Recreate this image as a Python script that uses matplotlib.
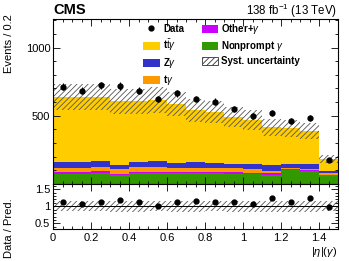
import numpy as np
import matplotlib
matplotlib.use('Agg')
import matplotlib.pyplot as plt
from matplotlib.patches import Patch
from matplotlib.lines import Line2D
from matplotlib.ticker import MultipleLocator

plt.rcParams['font.family'] = ['Liberation Sans', 'DejaVu Sans']
plt.rcParams['mathtext.fontset'] = 'custom'
plt.rcParams['mathtext.rm'] = 'Liberation Sans'
plt.rcParams['mathtext.it'] = 'Liberation Sans:italic'
plt.rcParams['mathtext.bf'] = 'Liberation Sans:bold'
plt.rcParams['hatch.linewidth'] = 0.6

# |eta|(gamma) bins
edges = np.arange(0.0, 1.51, 0.1)

# stacked predictions (events / bin), bottom to top
nonprompt = [71, 71, 81, 64, 79, 81, 79, 79, 76, 74, 74, 66, 98, 91, 62]
other = [15, 15, 10, 5, 7, 7, 7, 9, 10, 14, 7, 10, 8, 8, 5]
tgamma = [29, 29, 32, 37, 37, 32, 27, 27, 29, 27, 25, 20, 12, 12, 9]
zgamma = [42, 42, 44, 34, 39, 47, 41, 42, 39, 28, 39, 39, 25, 32, 17]
ttgamma = [480, 480, 470, 465, 445, 448, 430, 382, 375, 345, 323, 279, 265, 245, 88]
syst = [95, 95, 95, 92, 92, 93, 89, 82, 80, 74, 71, 63, 62, 59, 27]

data = [713, 682, 723, 718, 682, 623, 665, 623, 603, 547, 500, 518, 463, 485, 178]
data_err = [27, 26, 27, 27, 26, 25, 26, 25, 25, 23, 22, 23, 22, 22, 13]

fig = plt.figure(figsize=(3.49, 2.61), dpi=100)
ax = fig.add_axes([0.152, 0.296, 0.817, 0.631])
rax = fig.add_axes([0.152, 0.123, 0.817, 0.173], sharex=ax)

width = np.diff(edges)
left = edges[:-1]
centers = left + width / 2

comps = [
    (nonprompt, '#339900'),
    (other, '#cc00ff'),
    (tgamma, '#ff9900'),
    (zgamma, '#3333cc'),
    (ttgamma, '#ffcc00'),
]
bottom = np.zeros(len(left))
for vals, col in comps:
    ax.bar(left, vals, width, bottom=bottom, align='edge', color=col, linewidth=0)
    bottom = bottom + np.array(vals)
total = bottom
syst = np.array(syst)

ax.bar(left, 2 * syst, width, bottom=total - syst, align='edge', fill=False,
       hatch='//////', edgecolor='#555555', linewidth=0)
ax.errorbar(centers, data, yerr=data_err, fmt='o', color='black', ms=3.5,
            elinewidth=0.8, capsize=0)

ax.set_xlim(0, 1.5)
ax.set_ylim(0, 1210)
ax.set_yticks([500, 1000])
ax.set_yticklabels(['500', '1000'])
ax.yaxis.set_minor_locator(MultipleLocator(100))
ax.xaxis.set_major_locator(MultipleLocator(0.2))
ax.xaxis.set_minor_locator(MultipleLocator(0.05))
plt.setp(ax.get_xticklabels(), visible=False)

# ratio panel
ratio = np.array(data) / total
rerr = np.array(data_err) / total
runc = syst / total
rax.bar(left, 2 * runc, width, bottom=1 - runc, align='edge', fill=False,
        hatch='//////', edgecolor='#555555', linewidth=0)
rax.axhline(1, color='black', lw=0.7)
rax.errorbar(centers, ratio, yerr=rerr, fmt='o', color='black', ms=3.5,
             elinewidth=0.8, capsize=0)
rax.set_ylim(0.34, 1.66)
rax.yaxis.set_minor_locator(MultipleLocator(0.1))
rax.set_xticks([0, 0.2, 0.4, 0.6, 0.8, 1.0, 1.2, 1.4])
rax.set_xticklabels(['0', '0.2', '0.4', '0.6', '0.8', '1', '1.2', '1.4'])
rax.set_yticks([0.5, 1, 1.5])
rax.set_yticklabels(['0.5', '1', '1.5'])
rax.xaxis.set_minor_locator(MultipleLocator(0.05))

for a in (ax, rax):
    a.tick_params(which='both', direction='in', top=True, right=True,
                  labelsize=8, width=0.6, pad=2)
    a.tick_params(which='major', length=5)
    a.tick_params(which='minor', length=2.5)
    for s in a.spines.values():
        s.set_linewidth(0.8)
rax.tick_params(axis='x', which='major', pad=3)

fig.text(0.025, 0.946, 'Events / 0.2', rotation=90, ha='center', va='top', fontsize=8)
fig.text(0.025, 0.125, 'Data / Pred.', rotation=90, ha='center', va='center', fontsize=8)
fig.text(0.966, 0.035, '|$\\eta$|($\\gamma$)', ha='right', va='center', fontsize=8)
fig.text(0.152, 0.96, 'CMS', fontsize=10.5, fontweight='bold', ha='left', va='center')
fig.text(0.966, 0.96, '138 fb$^{-1}$ (13 TeV)', fontsize=8.3, ha='right', va='center')

handles = [
    Line2D([], [], marker='o', color='black', ls='', ms=3.5),
    Patch(facecolor='#ffcc00', linewidth=0),
    Patch(facecolor='#3333cc', linewidth=0),
    Patch(facecolor='#ff9900', linewidth=0),
    Patch(facecolor='#cc00ff', linewidth=0),
    Patch(facecolor='#339900', linewidth=0),
    Patch(facecolor='white', edgecolor='#333333', hatch='//////', linewidth=0.6),
]
labels = ['Data', 't$\\bar{\\mathrm{t}}$$\\gamma$', 'Z$\\gamma$', 't$\\gamma$',
          'Other+$\\gamma$', 'Nonprompt $\\gamma$', 'Syst. uncertainty']
leg = fig.legend(handles, labels, ncol=2, loc='upper left',
                 bbox_to_anchor=(0.41, 0.915), frameon=False,
                 prop={'size': 7, 'weight': 'bold'}, handlelength=1.7,
                 handleheight=0.9, labelspacing=0.32, columnspacing=1.8,
                 handletextpad=0.35, borderaxespad=0, borderpad=0)

fig.savefig('out.png', dpi=100)
